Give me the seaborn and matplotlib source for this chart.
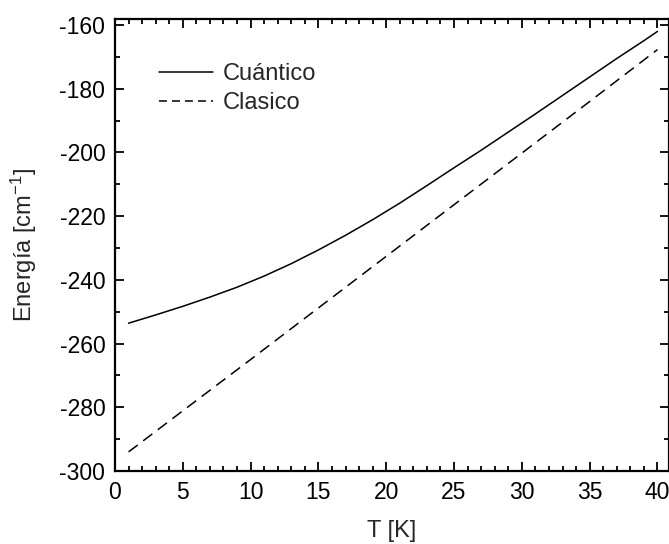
import matplotlib
matplotlib.use("Agg")
import matplotlib.pyplot as plt
import seaborn as sns
import pandas as pd
from matplotlib.ticker import MultipleLocator

# Data
T_cuantico = [1, 3, 5, 7, 9, 11, 13, 15, 17, 19, 21, 23, 25, 27, 29, 31, 33, 35, 37, 39, 40]
E_cuantico = [-253.6, -251.0, -248.3, -245.4, -242.3, -238.8, -234.9, -230.6, -226.0, -221.1,
              -215.9, -210.4, -204.8, -199.3, -193.6, -187.9, -182.1, -176.3, -170.5, -164.9, -162.0]
T_clasico = [1, 5, 10, 15, 20, 25, 30, 35, 40]
E_clasico = [-294.0, -281.1, -265.0, -248.8, -232.6, -216.4, -200.2, -184.0, -167.7]
labels = ["Cuántico", "Clasico"]

df = pd.concat([
    pd.DataFrame({"T": T_cuantico, "E": E_cuantico, "serie": labels[0]}),
    pd.DataFrame({"T": T_clasico, "E": E_clasico, "serie": labels[1]}),
])

sns.set_theme(style="ticks")
plt.rcParams["font.family"] = ["Liberation Sans", "DejaVu Sans"]
plt.rcParams["mathtext.fontset"] = "custom"
plt.rcParams["mathtext.rm"] = "Liberation Sans"
plt.rcParams["mathtext.it"] = "Liberation Sans"
plt.rcParams["axes.unicode_minus"] = False

W, H = 669, 544
fig = plt.figure(figsize=(W/100, H/100), dpi=100)
ax = fig.add_axes([115/W, 1-471/H, (W-115)/W, (471-19)/H])

lw = 1.1
sns.lineplot(data=df, x="T", y="E", hue="serie", style="serie",
             palette={labels[0]: "black", labels[1]: "black"},
             dashes={labels[0]: "", labels[1]: (7.5, 4.5)},
             linewidth=lw, ax=ax, sort=False, estimator=None)

ax.set_xlim(0, 40.85)
ax.set_ylim(-300, -158.1)
ax.xaxis.set_major_locator(MultipleLocator(5))
ax.xaxis.set_minor_locator(MultipleLocator(1))
ax.yaxis.set_major_locator(MultipleLocator(20))
ax.yaxis.set_minor_locator(MultipleLocator(10))
ax.tick_params(which="both", direction="in", top=True, right=True, width=1.3,
               labelsize=16.5, colors="black")
ax.tick_params(which="major", length=6.5)
ax.tick_params(which="minor", length=3.6)
ax.tick_params(axis="x", which="major", pad=7)
ax.tick_params(axis="y", which="major", pad=7)
for s in ax.spines.values():
    s.set_linewidth(1.6)
    s.set_color("black")
    s.set_visible(True)

ax.set_xlabel("T [K]", fontsize=17, labelpad=12)
ax.set_ylabel("Energía [cm$^{-1}$]", fontsize=17, labelpad=15)

leg = ax.legend(loc="upper left", bbox_to_anchor=((159-115)/(W-115), 1-(63-19)/(471-19)),
                frameon=False, borderpad=0, borderaxespad=0,
                fontsize=17, handlelength=2.29, handletextpad=0.41, labelspacing=0.29,
                title=None)
lines = leg.get_lines()
for h in lines:
    h.set_linewidth(lw)
lines[1].set_dashes((5.2, 3.3))

fig.savefig("out.png", dpi=100)
